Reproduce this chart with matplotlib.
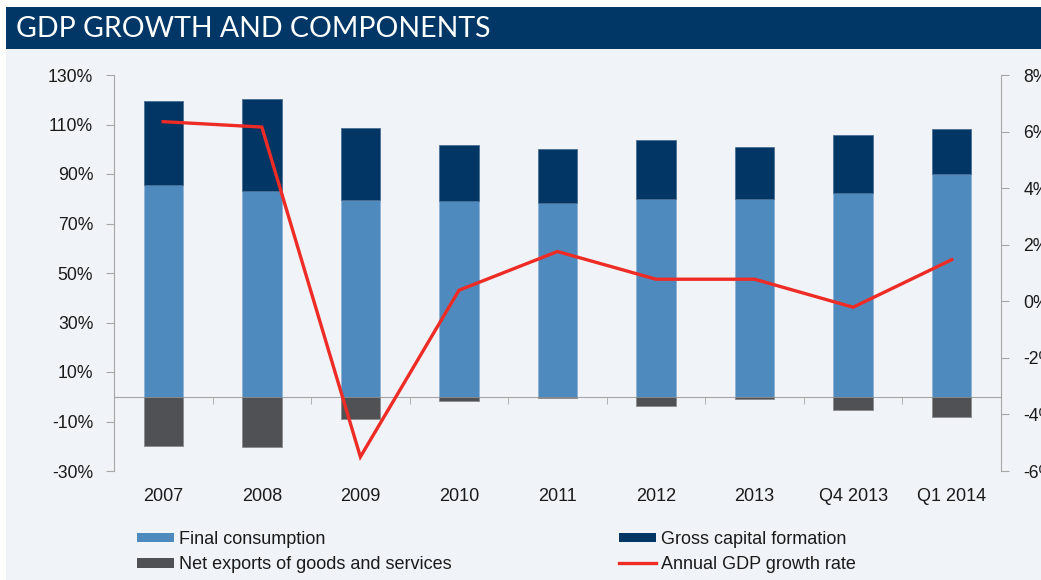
import numpy as np
import matplotlib
matplotlib.use("Agg")
import matplotlib.pyplot as plt
from matplotlib.patches import Rectangle, Patch
from matplotlib.lines import Line2D
from matplotlib.ticker import FuncFormatter, FixedLocator

plt.rcParams['font.family'] = ['Liberation Sans', 'DejaVu Sans']

# contributions to GDP (% of GDP) and annual growth rate (%)
periods = ["2007", "2008", "2009", "2010", "2011", "2012", "2013", "Q4 2013", "Q1 2014"]
final_consumption = [85.7, 83.1, 79.4, 79.2, 78.1, 79.8, 79.8, 82.4, 90.1]
gross_capital = [33.9, 37.3, 29.3, 22.5, 21.8, 23.8, 21.2, 23.3, 18.2]
net_exports = [-19.8, -20.5, -8.8, -1.8, -0.4, -3.6, -0.8, -5.4, -8.0]
gdp_growth = [6.35, 6.16, -5.50, 0.39, 1.76, 0.78, 0.78, -0.21, 1.47]

c_fc = "#4f8abe"
c_gcf = "#013665"
c_net = "#505154"
c_line = "#ee2b24"
c_bg = "#f0f4f8"
c_banner = "#003767"
c_axis = "#a6a6a6"
c_text = "#1a1a1a"

W, H = 1041, 580
fig = plt.figure(figsize=(W / 100, H / 100), dpi=100)
fig.patch.set_facecolor("white")

# panel background and title banner
fig.add_artist(Rectangle((6 / W, 0), 1, 1 - 49 / H, transform=fig.transFigure,
                         facecolor=c_bg, edgecolor="none", zorder=0))
fig.add_artist(Rectangle((6 / W, 1 - 49 / H), 1, 42 / H, transform=fig.transFigure,
                         facecolor=c_banner, edgecolor="none", zorder=0))
fig.text(16 / W, 1 - 29 / H, "GDP GROWTH AND COMPONENTS", color="white",
         fontsize=20.5, family=["Lato", "DejaVu Sans"],
         va="center", ha="left")

ax = fig.add_axes([114 / W, 1 - 471 / H, 887 / W, 396 / H])
ax.patch.set_visible(False)
x = np.arange(len(periods))
width = 0.4

ax.bar(x, final_consumption, width, color=c_fc, edgecolor="#8fb3d6", linewidth=0.6, zorder=2)
ax.bar(x, gross_capital, width, bottom=final_consumption, color=c_gcf,
       edgecolor="#4a6e94", linewidth=0.6, zorder=2)
ax.bar(x, net_exports, width, color=c_net, edgecolor="#8a8b8e", linewidth=0.6, zorder=2)

ax.set_xlim(-0.5, len(periods) - 0.5)
ax.set_ylim(-30, 130)
ax.set_yticks(np.arange(-30, 131, 20))
ax.yaxis.set_major_formatter(FuncFormatter(lambda v, p: f"{v:.0f}%"))

ax.spines['top'].set_visible(False)
ax.spines['right'].set_visible(False)
ax.spines['left'].set_color(c_axis)
ax.spines['bottom'].set_position(('data', 0))
ax.spines['bottom'].set_color(c_axis)
ax.spines['bottom'].set_zorder(1)

# category labels sit below the plot, separators hang from the zero line
ax.xaxis.set_major_locator(FixedLocator(x))
ax.xaxis.set_minor_locator(FixedLocator(x[:-1] + 0.5))
ax.set_xticklabels(periods)
ax.tick_params(axis='x', which='major', length=0, pad=65.5, labelsize=13, labelcolor=c_text)
ax.tick_params(axis='x', which='minor', length=5, direction='out', color=c_axis)
ax.tick_params(axis='y', length=6, direction='out', color=c_axis, pad=9,
               labelsize=12.7, labelcolor=c_text)

ax2 = ax.twinx()
ax2.plot(x, gdp_growth, color=c_line, linewidth=2.4, zorder=3, solid_joinstyle='miter')
ax2.set_ylim(-6, 8)
ax2.set_yticks(np.arange(-6, 9, 2))
ax2.yaxis.set_major_formatter(FuncFormatter(lambda v, p: f"{v:.0f}%"))
for s in ['top', 'left', 'bottom']:
    ax2.spines[s].set_visible(False)
ax2.spines['right'].set_color(c_axis)
ax2.tick_params(axis='y', length=6, direction='out', color=c_axis, pad=10,
                labelsize=12.7, labelcolor=c_text)

handles = [Patch(facecolor=c_fc, edgecolor="none"),
           Patch(facecolor=c_net, edgecolor="none"),
           Patch(facecolor=c_gcf, edgecolor="none"),
           Line2D([], [], color=c_line, linewidth=2.4)]
labels = ["Final consumption", "Net exports of goods and services",
          "Gross capital formation", "Annual GDP growth rate"]
fig.legend(handles, labels, ncol=2, loc="upper left",
           bbox_to_anchor=(137 / W, 1 - 531 / H), frameon=False,
           fontsize=13, handlelength=2.05, handleheight=0.45, handletextpad=0.25,
           columnspacing=9.3, labelspacing=0.45, borderaxespad=0, borderpad=0,
           labelcolor=c_text)

fig.savefig("out.png", dpi=100)
